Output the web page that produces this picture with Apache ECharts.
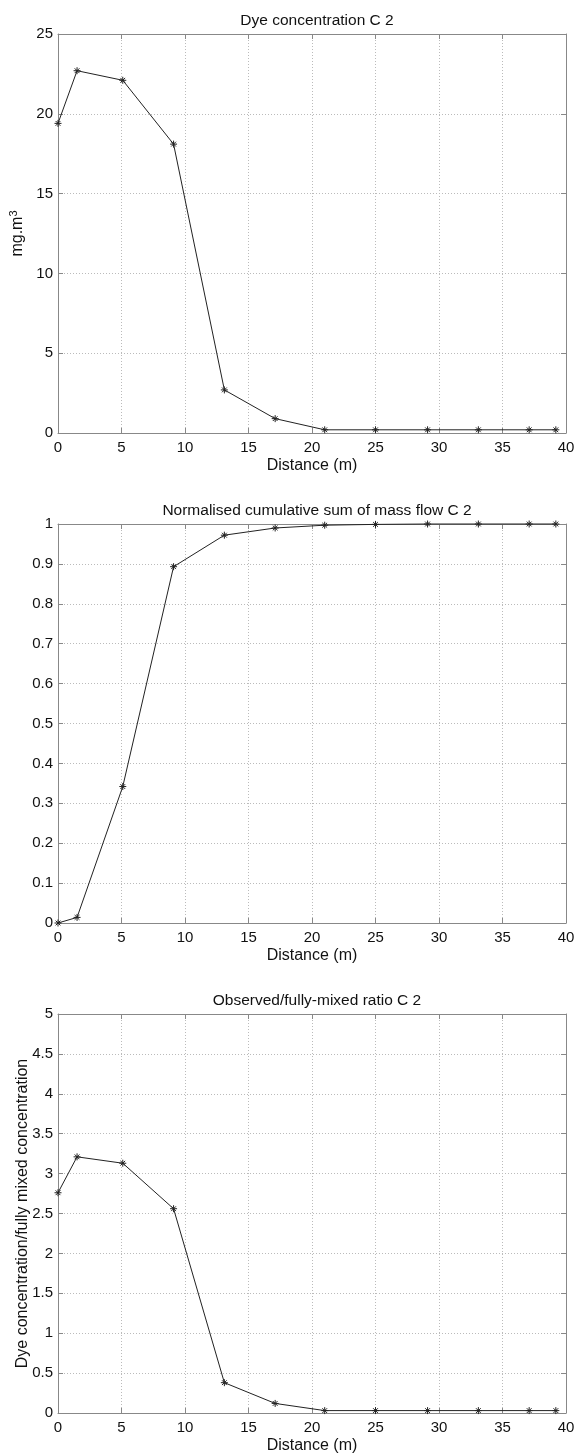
<!DOCTYPE html>
<html>
<head>
<meta charset="utf-8">
<title>Dye concentration C 2</title>
<script src="https://cdn.jsdelivr.net/npm/echarts@6/dist/echarts.min.js"></script>
<style>
  html, body { margin: 0; padding: 0; background: #fff; }
  #chart { width: 576px; height: 1456px; }
</style>
</head>
<body>
<div id="chart"></div>
<script>
// sampling positions along the channel (m)
var distance = [0, 1.5, 5.1, 9.1, 13.1, 17.1, 21, 25, 29.1, 33.1, 37.1, 39.2]
// dye concentration, mg.m^3
var dyeConc = [19.4, 22.7, 22.1, 18.1, 2.7, 0.9, 0.2, 0.2, 0.2, 0.2, 0.2, 0.2]
// normalised cumulative sum of mass flow
var cumMass = [0, 0.014, 0.342, 0.893, 0.972, 0.99, 0.997, 0.999, 1, 1, 1, 1]
// observed / fully-mixed ratio
var mixRatio = [2.76, 3.21, 3.13, 2.56, 0.38, 0.12, 0.03, 0.03, 0.03, 0.03, 0.03, 0.03]

var titles = ['Dye concentration C 2', 'Normalised cumulative sum of mass flow C 2', 'Observed/fully-mixed ratio C 2']
var xName = 'Distance (m)'
var yNames = ['{n|mg.m}{s|3}', '', 'Dye concentration/fully mixed concentration']
var yMax = [25, 1, 5]
var yStep = [5, 0.1, 0.5]
var yNameGap = [30, 30, 27]

var FONT = 'Liberation Sans, Arial, Helvetica, sans-serif'
var tops = [34, 524, 1014]
var PLOT_H = 399

// matlab-ish '*' marker
var STAR = 'path://M5,0L5,10M0,5L10,5M1.6,1.6L8.4,8.4M8.4,1.6L1.6,8.4'

function toPairs(ys) {
  return distance.map(function (x, i) { return [x, ys[i]] })
}

var chart = echarts.init(document.getElementById('chart'), null, { renderer: 'canvas' })

var option = {
  backgroundColor: '#fff',
  animation: false,
  title: [],
  grid: [],
  xAxis: [],
  yAxis: [],
  series: []
}

var seriesData = [dyeConc, cumMass, mixRatio]

for (var i = 0; i < 3; i++) {
  option.title.push({
    text: titles[i],
    left: 312,
    textAlign: 'center',
    top: tops[i] - 26,
    textStyle: { fontFamily: FONT, fontSize: 15.5, fontWeight: 'normal', color: '#111' }
  })
  option.grid.push({
    left: 58, top: tops[i], width: 508, height: PLOT_H,
    containLabel: false,
    outerBoundsMode: 'none'
  })
  // bottom axis with labels + dotted grid
  option.xAxis.push({
    type: 'value', gridIndex: i, position: 'bottom',
    min: 0, max: 40, interval: 5,
    name: xName, nameLocation: 'middle', nameGap: 25,
    nameMoveOverlap: false,
    nameTextStyle: { fontFamily: FONT, fontSize: 16, color: '#111' },
    axisLine: { show: true, onZero: false, lineStyle: { color: '#888', width: 1 } },
    axisTick: { show: true, inside: true, length: 5, lineStyle: { color: '#888' } },
    axisLabel: { fontFamily: FONT, fontSize: 15, color: '#111', margin: 7 },
    splitLine: { show: true, lineStyle: { color: '#bbb', type: [1, 2], width: 1 } }
  })
  // top edge of the box
  option.xAxis.push({
    type: 'value', gridIndex: i, position: 'top',
    min: 0, max: 40, interval: 5,
    axisLine: { show: true, onZero: false, lineStyle: { color: '#888', width: 1 } },
    axisTick: { show: true, inside: true, length: 5, lineStyle: { color: '#888' } },
    axisLabel: { show: false },
    splitLine: { show: false }
  })
  option.yAxis.push({
    type: 'value', gridIndex: i, position: 'left',
    min: 0, max: yMax[i], interval: yStep[i],
    name: yNames[i], nameLocation: 'middle', nameGap: yNameGap[i],
    nameMoveOverlap: false,
    nameTextStyle: {
      fontFamily: FONT, fontSize: 16, color: '#111',
      rich: {
        n: { fontFamily: FONT, fontSize: 16, color: '#111' },
        s: { fontFamily: FONT, fontSize: 11, color: '#111', verticalAlign: 'top', padding: [0, 0, 9, 0] }
      }
    },
    axisLine: { show: true, onZero: false, lineStyle: { color: '#888', width: 1 } },
    axisTick: { show: true, inside: true, length: 5, lineStyle: { color: '#888' } },
    axisLabel: { fontFamily: FONT, fontSize: 15, color: '#111', margin: 5 },
    splitLine: { show: true, lineStyle: { color: '#bbb', type: [1, 2], width: 1 } }
  })
  // right edge of the box
  option.yAxis.push({
    type: 'value', gridIndex: i, position: 'right',
    min: 0, max: yMax[i], interval: yStep[i],
    axisLine: { show: true, onZero: false, lineStyle: { color: '#888', width: 1 } },
    axisTick: { show: true, inside: true, length: 5, lineStyle: { color: '#888' } },
    axisLabel: { show: false },
    splitLine: { show: false }
  })
  option.series.push({
    type: 'line',
    xAxisIndex: i * 2,
    yAxisIndex: i * 2,
    data: toPairs(seriesData[i]),
    clip: false,
    symbol: STAR,
    symbolSize: 7,
    showAllSymbol: true,
    lineStyle: { color: '#222', width: 1 },
    itemStyle: { color: 'rgba(0,0,0,0)', borderColor: '#222', borderWidth: 1 },
    emphasis: { disabled: true },
    z: 5
  })
}

chart.setOption(option)
</script>
</body>
</html>
